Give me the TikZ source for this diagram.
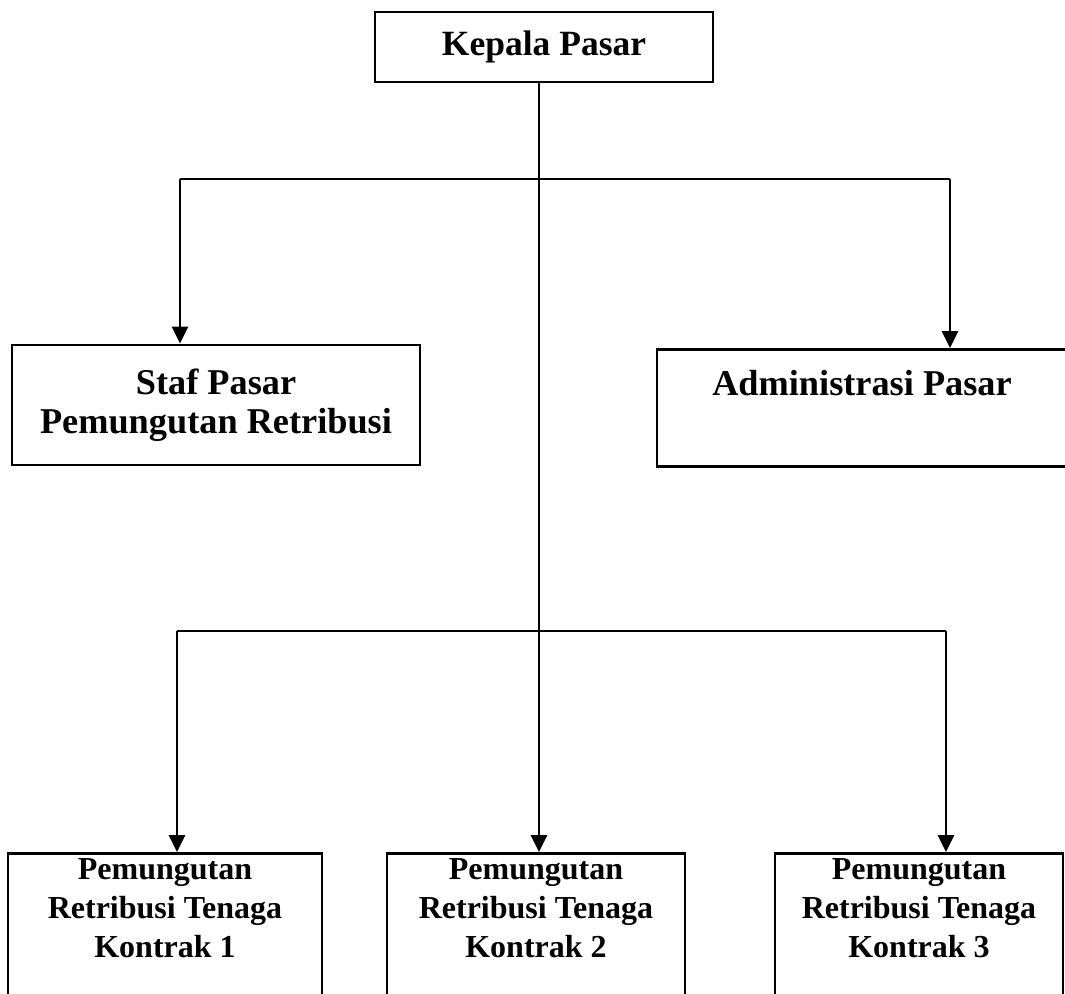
\documentclass[tikz,border=0pt]{standalone}
\usepackage{fontspec}
\setmainfont{Liberation Serif}
\usetikzlibrary{arrows.meta}
\tikzset{
  orgbox/.style={draw=black, line width=2.8pt, fill=white, align=center, font=\bfseries},
  arr/.style={line width=2.8pt, -{Triangle[width=16pt,length=17pt]}},
  bar/.style={line width=2.8pt, line join=miter},
}
\begin{document}
\begin{tikzpicture}[x=1pt,y=-1pt]
\useasboundingbox (0,0) rectangle (1065,993);
\clip (0,0) rectangle (1065,993);
% nodes
\node[orgbox, minimum width=338pt, minimum height=70pt, font=\bfseries\fontsize{35.5}{40}\selectfont] (kep) at (544,47) {Kepala Pasar};
\node[orgbox, minimum width=408pt, minimum height=120pt, font=\bfseries\fontsize{36.3}{39}\selectfont] (staf) at (216,405) {Staf Pasar\\Pemungutan Retribusi};
\node[orgbox, anchor=north, minimum width=410pt, inner ysep=3.3pt, text height=42.7pt, text depth=67.7pt, font=\bfseries\fontsize{36.3}{40}\selectfont] (adm) at (862,348) {Administrasi Pasar};
\node[orgbox, anchor=north, minimum width=314pt, inner ysep=5pt, font=\bfseries\fontsize{32}{39}\selectfont] (k1) at (165,852) {Pemungutan\\Retribusi Tenaga\\Kontrak 1\\\rule{0pt}{80pt}};
\node[orgbox, anchor=north, minimum width=298pt, inner ysep=5pt, font=\bfseries\fontsize{32}{39}\selectfont] (k2) at (536,852) {Pemungutan\\Retribusi Tenaga\\Kontrak 2\\\rule{0pt}{80pt}};
\node[orgbox, anchor=north, minimum width=288pt, inner ysep=5pt, font=\bfseries\fontsize{32}{39}\selectfont] (k3) at (919,852) {Pemungutan\\Retribusi Tenaga\\Kontrak 3\\\rule{0pt}{80pt}};
% junction coordinates
\coordinate (mv) at (539,82);
\coordinate (ubL) at (180,179);
\coordinate (ubR) at (950,179);
\coordinate (lbL) at (177,631);
\coordinate (lbR) at (946,631);
% connectors
\draw[bar] (ubL) -- (ubR);
\draw[arr] (ubL) -- (ubL |- staf.north);
\draw[arr] (ubR) -- (ubR |- adm.north);
\draw[bar] (lbL) -- (lbR);
\draw[arr] (lbL) -- (lbL |- k1.north);
\draw[arr] (lbR) -- (lbR |- k3.north);
\draw[arr] (mv |- kep.south) -- (mv |- k2.north);
\end{tikzpicture}
\end{document}
